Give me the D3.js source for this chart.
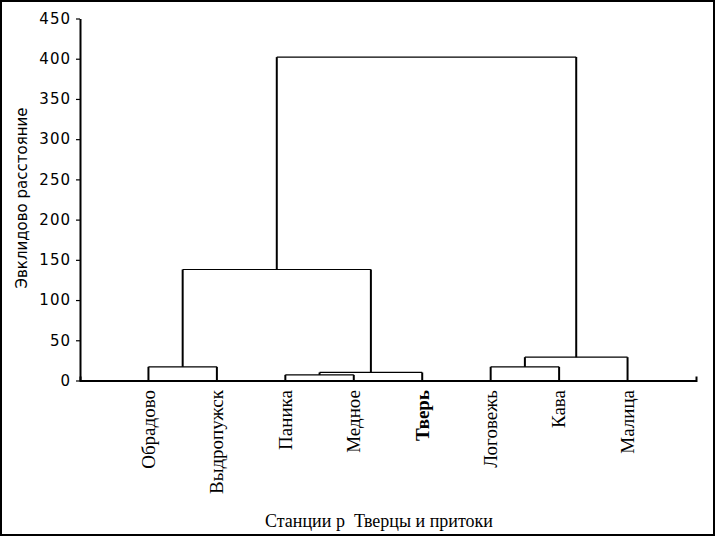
<!DOCTYPE html>
<html>
<head>
<meta charset="utf-8">
<script src="https://cdn.jsdelivr.net/npm/d3@7"></script>
<style>
  body { margin: 0; background: #fff; }
  svg { display: block; }
  .tick text { font-family: "DejaVu Sans", sans-serif; font-size: 15px; letter-spacing: 1px; }
  .link { fill: none; stroke: #000; }
</style>
</head>
<body>
<div id="chart"></div>
<script>
// stations along the x axis, in dendrogram order
const stations = ["Обрадово", "Выдропужск", "Паника", "Медное", "Тверь", "Логовежь", "Кава", "Малица"];
// merge steps: index < 8 is a station, index >= 8 is the cluster made at step (index - 8)
const mergeA = [0, 2, 9, 5, 11, 8, 12];
const mergeB = [1, 3, 4, 6, 7, 10, 13];
const mergeHeight = [17, 7, 10, 17, 29, 138, 402];
const yTicks = [0, 50, 100, 150, 200, 250, 300, 350, 400, 450];

const width = 716, height = 538;

const svg = d3.select("#chart").append("svg")
    .attr("width", width)
    .attr("height", height);

// frame round the picture
svg.append("rect")
    .attr("x", 1).attr("y", 1)
    .attr("width", width - 3).attr("height", height - 4)
    .attr("fill", "none").attr("stroke", "#000").attr("stroke-width", 2);

const x = d3.scaleLinear().domain([0, stations.length + 1]).range([80, 696]);
const y = d3.scaleLinear().domain([0, 450]).range([380.5, 18.5]);

// node positions: leaves first, then clusters
const nodes = stations.map((s, i) => ({ x: x(i + 1), h: 0 }));
mergeA.forEach((a, i) => {
  const b = mergeB[i];
  nodes.push({ x: (nodes[a].x + nodes[b].x) / 2, h: mergeHeight[i], a: a, b: b });
});

const clusters = nodes.slice(stations.length);

// verticals (thicker) and horizontals
clusters.forEach(c => {
  [c.a, c.b].forEach(k => {
    svg.append("line").attr("class", "link")
        .attr("x1", nodes[k].x).attr("x2", nodes[k].x)
        .attr("y1", y(nodes[k].h)).attr("y2", y(c.h))
        .attr("stroke-width", 2);
  });
  svg.append("line").attr("class", "link")
      .attr("x1", nodes[c.a].x).attr("x2", nodes[c.b].x)
      .attr("y1", y(c.h)).attr("y2", y(c.h))
      .attr("stroke-width", 1.2);
});

// y axis
const yAxis = svg.append("g")
    .attr("transform", "translate(80,0)")
    .call(d3.axisLeft(y).tickValues(yTicks).tickSize(4).tickSizeOuter(0).tickPadding(5));
yAxis.select(".domain").attr("stroke-width", 2);
yAxis.selectAll(".tick line").attr("stroke-width", 1.2);
yAxis.selectAll(".tick text").attr("fill", "#000");

// x axis
const xAxis = svg.append("g")
    .attr("transform", "translate(0," + y(0) + ")")
    .call(d3.axisBottom(x).tickValues([]).tickSizeOuter(-4));
xAxis.select(".domain").attr("stroke-width", 2);

// station labels
svg.selectAll(".station")
    .data(stations)
    .enter().append("text")
    .attr("class", "station")
    .attr("transform", (d, i) => "translate(" + x(i + 1) + ",390) rotate(-90)")
    .attr("text-anchor", "end")
    .attr("dy", "0.33em")
    .style("font-family", "'Liberation Serif', 'Times New Roman', serif")
    .style("font-size", "19px")
    .style("font-weight", d => d === "Тверь" ? "bold" : "normal")
    .text(d => d);

// axis titles
svg.append("text")
    .attr("transform", "translate(27,198) rotate(-90)")
    .attr("text-anchor", "middle")
    .style("font-family", "'DejaVu Sans', sans-serif")
    .style("font-size", "15px")
    .text("Эвклидово расстояние");

svg.append("text")
    .attr("x", 379)
    .attr("y", 527)
    .attr("text-anchor", "middle")
    .style("font-family", "'Liberation Serif', 'Times New Roman', serif")
    .style("font-size", "18px")
    .style("white-space", "pre")
    .text("Станции р  Тверцы и притоки");
</script>
</body>
</html>
